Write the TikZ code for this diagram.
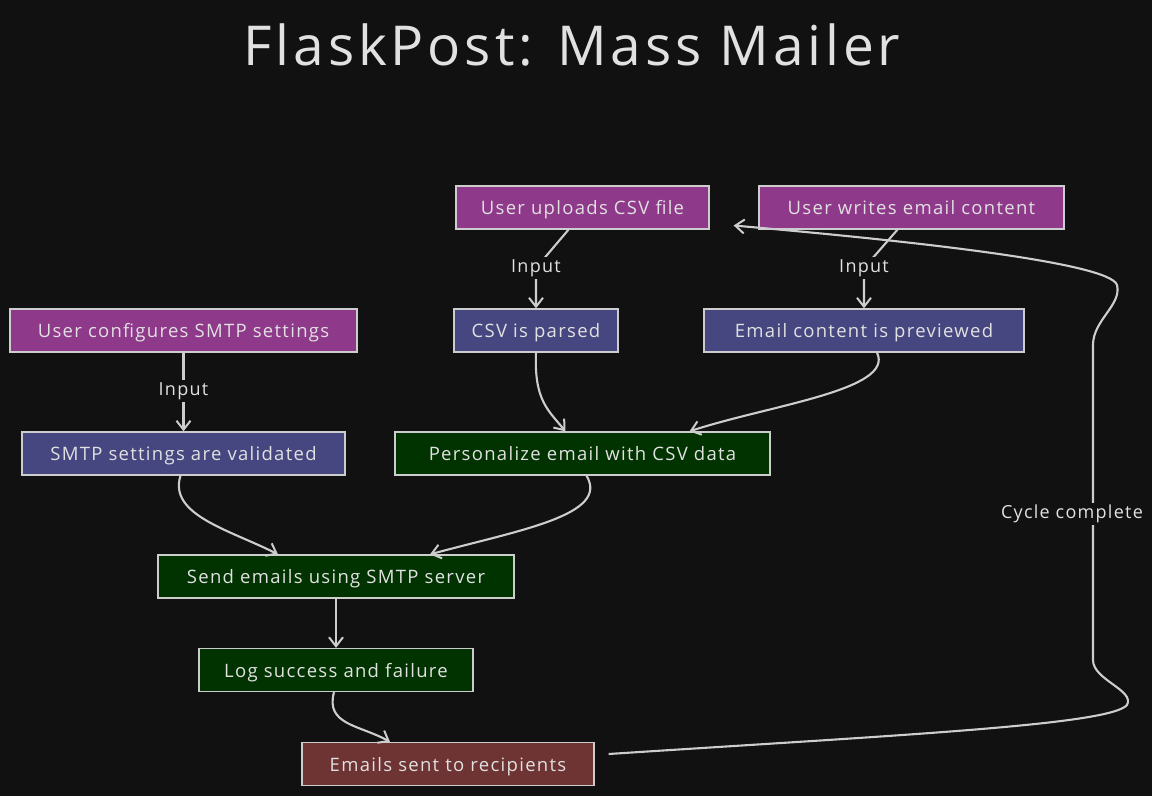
\documentclass[tikz,border=0pt]{standalone}
\usepackage{fontspec}
\setmainfont{Open Sans}[LetterSpace=7]
\usetikzlibrary{arrows.meta}
\definecolor{bgc}{RGB}{17,17,17}
\definecolor{purp}{RGB}{143,57,138}
\definecolor{blu}{RGB}{70,70,128}
\definecolor{grn}{RGB}{1,51,0}
\definecolor{rd}{RGB}{110,51,51}
\definecolor{edge}{RGB}{205,205,205}
\definecolor{txt}{RGB}{225,225,225}
\tikzset{
  box/.style={draw=edge, line width=1.3pt, text=txt, font=\fontsize{18.5}{22}\selectfont,
    minimum height=43pt, inner sep=0pt, text height=15pt, text depth=1pt, anchor=center},
  pbox/.style={box, fill=purp},
  bbox/.style={box, fill=blu},
  gbox/.style={box, fill=grn},
  rbox/.style={box, fill=rd},
  arr/.style={draw=edge, line width=2.1pt, -{Straight Barb[length=9pt,width=14pt,line width=2pt]}},
  lbl/.style={fill=bgc, text=txt, font=\fontsize{18}{22}\selectfont, inner sep=2pt}
}
\begin{document}
\begin{tikzpicture}[x=1pt,y=-1pt]
\fill[bgc] (0,0) rectangle (1152,796);
\useasboundingbox (0,0) rectangle (1152,796);
\node[text=txt, font=\fontsize{55}{66}\selectfont] (title) at (572,45) {FlaskPost: Mass Mailer};

\node[pbox, minimum width=253pt] (up) at (582.5,207.5) {User uploads CSV file};
\node[pbox, minimum width=305pt] (wr) at (911.5,207.5) {User writes email content};
\node[pbox, minimum width=347pt] (cf) at (183.5,330.5) {User configures SMTP settings};
\node[bbox, minimum width=164pt] (pa) at (536,330.5) {CSV is parsed};
\node[bbox, minimum width=320pt] (pv) at (864,330.5) {Email content is previewed};
\node[bbox, minimum width=323pt] (va) at (183.5,453.5) {SMTP settings are validated};
\node[gbox, minimum width=375pt] (pe) at (582.5,453.5) {Personalize email with CSV data};
\node[gbox, minimum width=356pt] (se) at (336,576.5) {Send emails using SMTP server};
\node[gbox, minimum width=274pt] (lg) at (336,670) {Log success and failure};
\node[rbox, minimum width=292pt] (em) at (448,764) {Emails sent to recipients};

\draw[arr] ([xshift=-14pt]up.south) -- (536,268) node[lbl] {Input} -- (pa.north);
\draw[arr] ([xshift=-14pt]wr.south) -- (864,268) node[lbl] {Input} -- (pv.north);
\draw[arr] (cf.south) -- (183.5,391) node[lbl] {Input} -- (va.north);

\draw[arr] (pa.south) .. controls (534,400) and (548,410) .. ([xshift=-17pt]pe.north);
\draw[arr] ([xshift=13pt]pv.south) .. controls (895,390) and (770,405) .. ([xshift=107pt]pe.north);
\draw[arr] ([xshift=-3pt]va.south) .. controls (168,515) and (230,530) .. ([xshift=-58pt]se.north);
\draw[arr] ([xshift=4pt]pe.south) .. controls (610,515) and (520,530) .. ([xshift=94pt]se.north);
\draw[arr] (se.south) -- (lg.north);
\draw[arr] ([xshift=-2pt]lg.south) .. controls (325,725) and (360,725) .. ([xshift=-58pt]em.north);

\draw[arr] ([xshift=14pt,yshift=10pt]em.east) .. controls (900,735) and (1110,725) .. (1127,705)
  .. controls (1135,690) and (1093,680) .. (1093,660) -- (1093,345)
  .. controls (1093,320) and (1122,305) .. (1117,285)
  .. controls (1110,262) and (900,240) .. ([xshift=24pt,yshift=-18pt]up.east);
\node[lbl] (cyc) at (1072,514) {Cycle complete};
\end{tikzpicture}
\end{document}
